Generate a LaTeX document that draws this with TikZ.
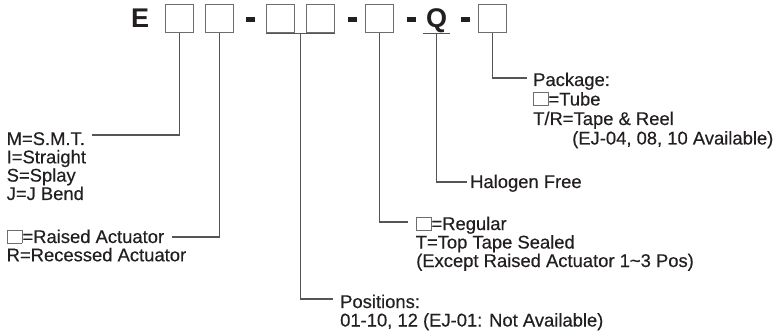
\documentclass[tikz,border=0pt]{standalone}
\usepackage{fontspec}
\setmainfont{Liberation Sans}
\newfontfamily\lblfont[FakeBold=0.35]{Liberation Sans}
\usetikzlibrary{calc}
\definecolor{txt}{HTML}{231F20}
\definecolor{ln}{HTML}{555555}
\definecolor{bx}{HTML}{6E6E6E}
\newcommand{\sqb}{{\color{bx}\fboxsep=0pt\fboxrule=0.9pt\fbox{\rule{0pt}{12.5pt}\hspace{13.5pt}}}}
\tikzset{
  hbox/.style={draw=bx, line width=1.4pt, minimum width=28pt, minimum height=28pt, inner sep=0pt},
  hdash/.style={fill=txt, draw=none, minimum width=9pt, minimum height=5pt, inner sep=0pt},
  big/.style={font=\fontsize{27}{27}\selectfont\bfseries, text=txt, inner sep=0pt},
  lbl/.style={font=\fontsize{18.4}{18.4}\lblfont, text=txt, inner sep=0pt, anchor=base west},
  conn/.style={draw=ln, line width=1.2pt}
}
\begin{document}
\begin{tikzpicture}[x=1pt,y=-1pt]
\useasboundingbox[fill=white] (0,0) rectangle (777,334);
% header
\node[big, anchor=base west] (e) at (131,28) {E};
\node[hbox] (b1) at (179.5,18.5) {};
\node[hbox] (b2) at (219.5,18.5) {};
\node[hdash] (d1) at (250,20) {};
\node[hbox] (b3) at (280.5,18.5) {};
\node[hbox] (b4) at (320.5,18.5) {};
\node[hdash] (d2) at (352,20) {};
\node[hbox] (b5) at (379.5,18.5) {};
\node[hdash] (d3) at (411,20) {};
\node[big, anchor=base, minimum width=27pt, text height=20pt, text depth=5pt] (q) at (436.5,28) {Q};
\node[hdash] (d4) at (465,20) {};
\node[hbox] (b6) at (492.5,18.5) {};
\draw[conn] (q.south west) -- (q.south east);
\draw[conn] (b3.south west) -- (b4.south east);
\coordinate (u34) at ($(b3.south east)!0.5!(b4.south west)$);
% labels
\node[lbl] (m1) at (6.5,145) {M=S.M.T.};
\node[lbl] (m2) at (6.5,163.3) {I=Straight};
\node[lbl] (m3) at (6.5,181.6) {S=Splay};
\node[lbl] (m4) at (6.5,200) {J=J Bend};
\node[lbl] (a1) at (7,243) {\sqb=Raised Actuator};
\node[lbl] (a2) at (6.5,261.3) {R=Recessed Actuator};
\node[lbl] (p1) at (340,308) {Positions:};
\node[lbl] (p2) at (340,326.5) {01-10, 12 (EJ-01: Not Available)};
\node[lbl] (r1) at (416,230) {\sqb=Regular};
\node[lbl] (r2) at (415.5,248.5) {T=Top Tape Sealed};
\node[lbl] (r3) at (416,267) {(Except Raised Actuator 1\textasciitilde3 Pos)};
\node[lbl] (h1) at (470,188) {Halogen Free};
\node[lbl] (k1) at (533,86) {Package:};
\node[lbl] (k2) at (533,105.5) {\sqb=Tube};
\node[lbl] (k3) at (533,125) {T/R=Tape \& Reel};
\node[lbl] (k4) at (572,144.5) {(EJ-04, 08, 10 Available)};
% connector ends
\coordinate (c1) at (92,135);
\coordinate (c2) at (172,237);
\coordinate (c3) at (333,299);
\coordinate (c5) at (408,222);
\coordinate (c6) at (467,182);
\coordinate (c7) at (527,78);
\draw[conn] (b1.south) |- (c1);
\draw[conn] (b2.south) |- (c2);
\draw[conn] (u34) |- (c3);
\draw[conn] (b5.south) |- (c5);
\draw[conn] (q.south) |- (c6);
\draw[conn] (b6.south) |- (c7);
\end{tikzpicture}
\end{document}
